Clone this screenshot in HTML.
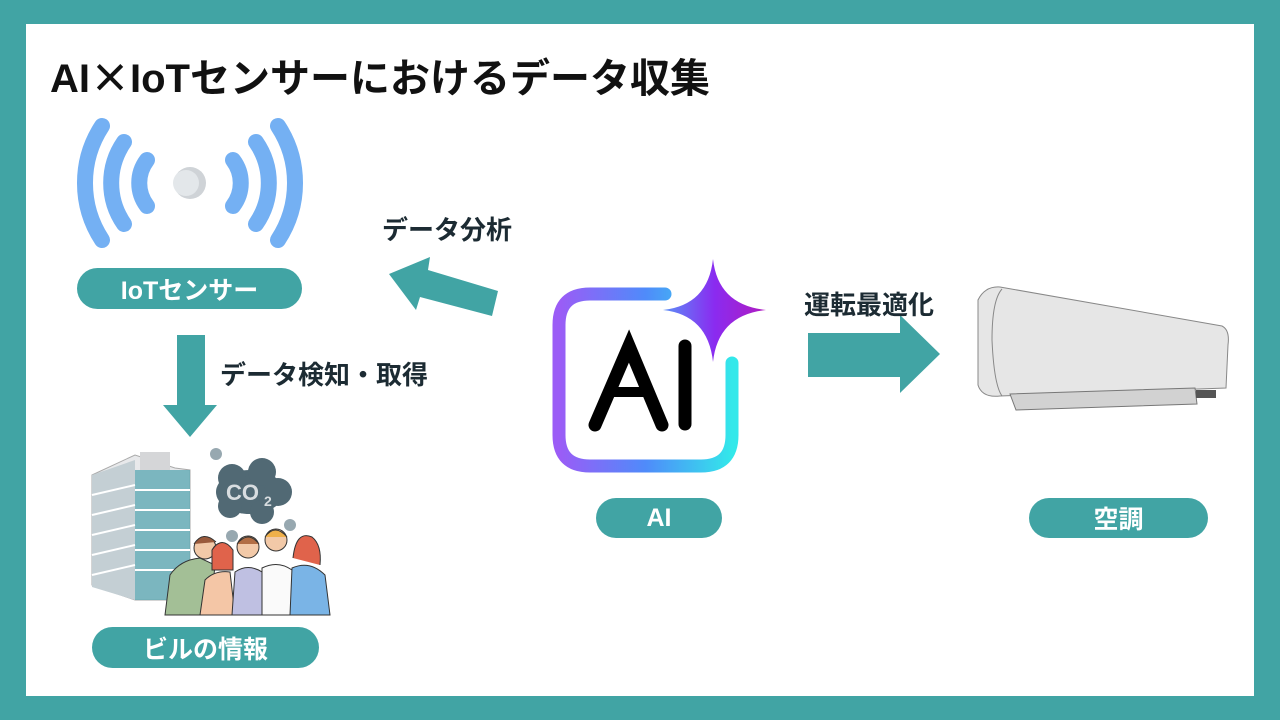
<!DOCTYPE html>
<html><head><meta charset="utf-8"><style>
html,body{margin:0;padding:0;}
body{width:1280px;height:720px;background:#41a4a4;position:relative;overflow:hidden;font-family:"Liberation Sans","Noto Sans CJK JP",sans-serif;}
.card{position:absolute;left:26px;top:24px;width:1228px;height:672px;background:#fff;}
.t{position:absolute;font-weight:bold;color:#111;white-space:nowrap;}
.pill{position:absolute;background:#41a4a4;color:#fff;font-weight:bold;font-size:25px;display:flex;align-items:center;justify-content:center;border-radius:22px;font-family:"Liberation Sans","Noto Sans CJK JP",sans-serif;}
svg{position:absolute;left:0;top:0;}
</style></head><body>
<div class="card"></div>
<svg width="1280" height="720" viewBox="0 0 1280 720">
<defs>
<linearGradient id="gb" x1="0" y1="0" x2="1" y2="0"><stop offset="0" stop-color="#9b5cf6"/><stop offset="0.5" stop-color="#4f8bfa"/><stop offset="1" stop-color="#33e8ea"/></linearGradient>
<linearGradient id="gs" x1="0" y1="0" x2="1" y2="0"><stop offset="0" stop-color="#5b8ff7"/><stop offset="0.5" stop-color="#8a2bf0"/><stop offset="1" stop-color="#b01cc0"/></linearGradient>
</defs>
<g fill="none" stroke="#74b0f3" stroke-width="16" stroke-linecap="round">
<path d="M147 160 A38 38 0 0 0 147 206"/>
<path d="M233 160 A38 38 0 0 1 233 206"/>
<path d="M124 142 A72 72 0 0 0 124 224"/>
<path d="M256 142 A72 72 0 0 1 256 224"/>
<path d="M102 126 A104 104 0 0 0 102 240"/>
<path d="M278 126 A104 104 0 0 1 278 240"/>
</g>
<circle cx="190" cy="183" r="16" fill="#cfd3d7"/>
<circle cx="186" cy="183" r="13" fill="#e3e7ea"/>
<polygon points="177,335 205,335 205,405 217,405 190,437 163,405 177,405" fill="#41a4a4"/>
<polygon points="498,291 492,316 420,297 416,310 389,274 430,257 428,270" fill="#41a4a4"/>
<polygon points="808,333 900,333 900,315 940,354 900,393 900,377 808,377" fill="#41a4a4"/>
<path d="M665 294 L590 294 Q559 294 559 325 L559 435 Q559 466 590 466 L701 466 Q732 466 732 435 L732 363" fill="none" stroke="url(#gb)" stroke-width="13" stroke-linecap="round"/>
<path d="M713 259 Q718 305 766 310 Q718 315 713 362 Q708 315 663 310 Q708 305 713 259Z" fill="url(#gs)"/>
<g stroke="#000" stroke-width="13" stroke-linecap="round" fill="none">
<path d="M595 425 L629 346 L662 425"/>
<path d="M611 392 L647 392" stroke-width="10"/>
<path d="M685 346 L685 424"/>
</g>
<g>
<polygon points="92,475 135,455 175,468 190,470 190,600 135,600 92,585" fill="#e8e9eb" stroke="#aaa" stroke-width="1"/>
<polygon points="92,475 135,460 135,600 92,587" fill="#c4cfd4"/>
<polygon points="135,470 190,470 190,600 135,600" fill="#5fa9b4" opacity="0.8"/>
<rect x="140" y="452" width="30" height="18" fill="#d5d6d8"/>
<g stroke="#ffffff" stroke-width="2">
<line x1="92" y1="495" x2="135" y2="485"/><line x1="92" y1="515" x2="135" y2="505"/><line x1="92" y1="535" x2="135" y2="525"/><line x1="92" y1="555" x2="135" y2="545"/><line x1="92" y1="575" x2="135" y2="565"/>
<line x1="135" y1="490" x2="190" y2="490"/><line x1="135" y1="510" x2="190" y2="510"/><line x1="135" y1="530" x2="190" y2="530"/><line x1="135" y1="550" x2="190" y2="550"/><line x1="135" y1="570" x2="190" y2="570"/>
</g>
</g>
<circle cx="216" cy="454" r="6" fill="#97a8b0"/>
<circle cx="290" cy="525" r="6" fill="#97a8b0"/>
<circle cx="232" cy="536" r="6" fill="#97a8b0"/>
<g fill="#516974">
<ellipse cx="250" cy="492" rx="34" ry="22"/>
<circle cx="232" cy="478" r="14"/><circle cx="262" cy="472" r="14"/><circle cx="278" cy="492" r="14"/><circle cx="262" cy="512" r="12"/><circle cx="230" cy="506" r="12"/>
</g>
<text x="226" y="500" font-family="Liberation Sans" font-weight="bold" font-size="22" fill="#d8dde0">CO</text>
<text x="264" y="506" font-family="Liberation Sans" font-weight="bold" font-size="14" fill="#d8dde0">2</text>
<g stroke="#333" stroke-width="1">
<path d="M165 615 L170 575 Q180 560 200 558 L215 565 L210 615Z" fill="#a3bf96"/>
<circle cx="205" cy="548" r="11" fill="#f2c9a8"/><path d="M194 544 Q203 530 216 542" fill="#9a5a3c"/>
<path d="M200 615 L205 580 Q215 570 230 572 L235 615Z" fill="#f4c6a6"/>
<circle cx="222" cy="553" r="10" fill="#f2c9a8"/><path d="M212 550 Q222 535 233 550 L233 570 L212 570Z" fill="#e0634b"/>
<path d="M232 615 L235 572 Q248 563 262 572 L265 615Z" fill="#bfc0e2"/>
<circle cx="248" cy="547" r="11" fill="#f2c9a8"/><path d="M237 544 Q248 530 259 544" fill="#b26e45"/>
<path d="M262 615 L262 568 Q278 560 292 570 L292 615Z" fill="#fafafa"/>
<circle cx="276" cy="540" r="11" fill="#f2c9a8"/><path d="M265 537 Q275 523 287 537" fill="#efb04a"/>
<path d="M290 615 L292 568 Q310 560 325 575 L330 615Z" fill="#7ab4e6"/>
<circle cx="305" cy="550" r="10" fill="#f2c9a8"/><path d="M293 558 Q296 530 312 537 Q322 545 320 565" fill="#e0634b"/>
</g>
<g>
<path d="M978 300 Q985 286 1000 287 L1222 326 Q1230 330 1228 345 L1226 388 L1000 396 Q982 398 978 385Z" fill="#e6e6e6" stroke="#888" stroke-width="1"/>
<path d="M1002 289 Q992 300 992 340 Q994 385 1002 396" fill="none" stroke="#888"/>
<path d="M1010 394 L1195 388 L1197 404 L1016 410Z" fill="#d2d2d2" stroke="#777" stroke-width="1"/>
<rect x="1196" y="390" width="20" height="8" fill="#555"/>
</g>
</svg>
<div class="t" style="left:50px;top:46px;font-size:40px;">AI<span style="font-family:'Noto Sans CJK JP',sans-serif;">×</span>IoTセンサーにおけるデータ収集</div>
<div class="t" style="left:382px;top:210px;font-size:26px;color:#1c2b33;">データ分析</div>
<div class="t" style="left:220px;top:355px;font-size:26px;color:#1c2b33;">データ検知・取得</div>
<div class="t" style="left:804px;top:285px;font-size:26px;color:#1c2b33;">運転最適化</div>
<div class="pill" style="left:77px;top:268px;width:225px;height:41px;">IoTセンサー</div>
<div class="pill" style="left:596px;top:498px;width:126px;height:40px;">AI</div>
<div class="pill" style="left:1029px;top:498px;width:179px;height:40px;">空調</div>
<div class="pill" style="left:92px;top:627px;width:227px;height:41px;">ビルの情報</div>
</body></html>
